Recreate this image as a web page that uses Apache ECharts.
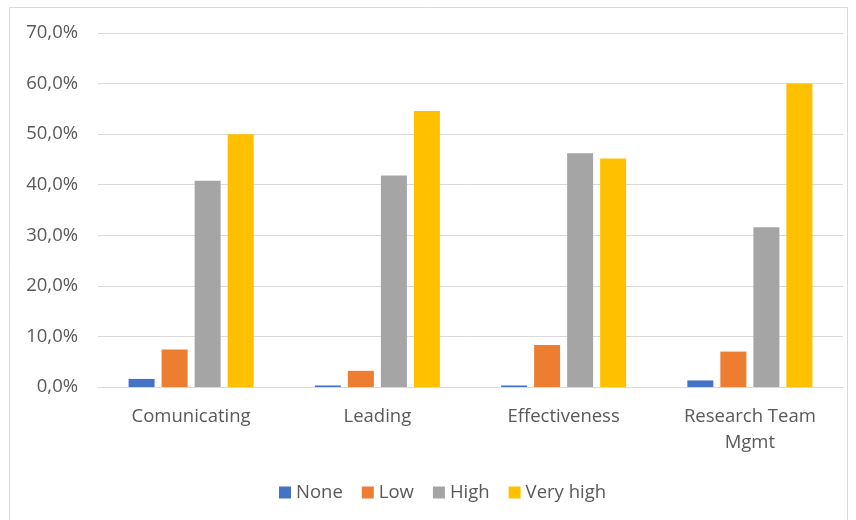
<!DOCTYPE html>
<html lang="en">
<head>
	<meta charset="UTF-8">
	<title>Skills</title>
	<style>
		html, body { margin: 0; padding: 0; background: #fff; }
	</style>
</head>
<body>
	<div id="main" style="width: 856px;height: 520px"></div>
	<script src="https://cdn.jsdelivr.net/npm/echarts@6/dist/echarts.min.js"></script>
	<script>
		var categories = ['Comunicating', 'Leading', 'Effectiveness', 'Research Team\nMgmt'];
		var seriesNames = ['None', 'Low', 'High', 'Very high'];
		var noneData = [1.6, 0.3, 0.3, 1.3];
		var lowData = [7.4, 3.2, 8.3, 7.0];
		var highData = [40.8, 41.8, 46.2, 31.6];
		var veryHighData = [50.0, 54.6, 45.2, 60.0];
		var colors = ['#4472C4', '#ED7D31', '#A5A5A5', '#FFC000'];

		var allData = [noneData, lowData, highData, veryHighData];
		var fontFamily = '"Open Sans", sans-serif';

		var myChart = echarts.init(document.getElementById('main'));
		var option = {
			animation: false,
			color: colors,
			textStyle: { fontFamily: fontFamily },
			graphic: [{
				type: 'rect',
				shape: { x: 9.5, y: 7.5, width: 838, height: 530 },
				style: { fill: 'none', stroke: '#d9d9d9', lineWidth: 1 }
			}],
			legend: {
				data: seriesNames,
				left: 274,
				top: 478,
				itemWidth: 12,
				itemHeight: 12,
				itemGap: 19,
				icon: 'rect',
				textStyle: { fontSize: 18.5, color: '#595959', fontFamily: fontFamily }
			},
			grid: {
				left: 98,
				right: 13,
				top: 33,
				bottom: 133
			},
			xAxis: {
				type: 'category',
				data: categories,
				axisTick: { show: false },
				axisLine: { lineStyle: { color: '#d9d9d9', width: 1 } },
				axisLabel: {
					color: '#595959',
					fontSize: 18.5,
					lineHeight: 26,
					margin: 17,
					fontFamily: fontFamily
				}
			},
			yAxis: {
				type: 'value',
				min: 0,
				max: 70,
				interval: 10,
				axisLine: { show: false },
				axisTick: { show: false },
				splitLine: { lineStyle: { color: '#d9d9d9', width: 1 } },
				axisLabel: {
					color: '#595959',
					fontSize: 18.5,
					margin: 20,
					fontFamily: fontFamily,
					formatter: function (v) {
						return v.toFixed(1).replace('.', ',') + '%';
					}
				}
			},
			series: seriesNames.map(function (name, i) {
				return {
					name: name,
					type: 'bar',
					barWidth: 26,
					barGap: '27%',
					data: allData[i],
					itemStyle: { color: colors[i] }
				};
			})
		};

		myChart.setOption(option);
	</script>
</body>
</html>
